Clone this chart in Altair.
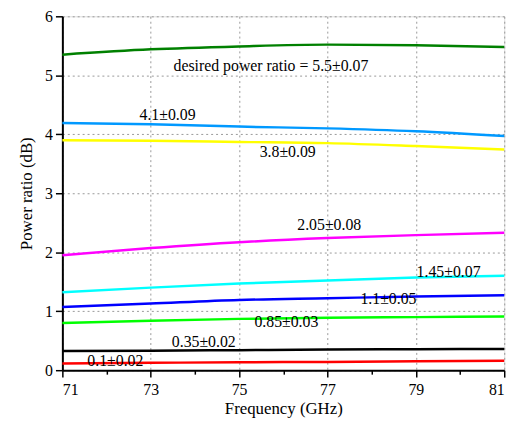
import altair as alt
import pandas as pd

freq = [71, 73, 75, 77, 79, 81]
s_green_dark = [5.35, 5.44, 5.49, 5.52, 5.51, 5.48]
s_skyblue = [4.19, 4.17, 4.13, 4.10, 4.05, 3.97]
s_yellow = [3.90, 3.89, 3.87, 3.85, 3.80, 3.74]
s_magenta = [1.95, 2.07, 2.17, 2.24, 2.29, 2.33]
s_cyan = [1.32, 1.40, 1.47, 1.52, 1.57, 1.60]
s_blue = [1.07, 1.13, 1.19, 1.22, 1.25, 1.27]
s_green = [0.80, 0.84, 0.87, 0.89, 0.90, 0.91]
s_black = [0.325, 0.33, 0.34, 0.35, 0.355, 0.36]
s_red = [0.115, 0.125, 0.135, 0.14, 0.15, 0.16]

series_names = ["5.5", "4.1", "3.8", "2.05", "1.45", "1.1", "0.85", "0.35", "0.1"]
series_vals = [s_green_dark, s_skyblue, s_yellow, s_magenta, s_cyan, s_blue, s_green, s_black, s_red]
series_colors = ["#008000", "#0099ff", "#ffff00", "#ff00ff", "#00ffff", "#0000ff", "#00ff00", "#000000", "#ff0000"]

label_text = ["desired power ratio = 5.5±0.07", "4.1±0.09", "3.8±0.09", "2.05±0.08",
              "1.45±0.07", "1.1±0.05", "0.85±0.03", "0.35±0.02", "0.1±0.02"]
label_x = [75.72, 73.38, 76.1, 77.04, 79.74, 78.38, 76.07, 74.2, 72.2]
label_y = [5.16, 4.33, 3.69, 2.46, 1.67, 1.21, 0.81, 0.48, 0.15]

rows = []
for name, vals in zip(series_names, series_vals):
    for f, v in zip(freq, vals):
        rows.append({"series": name, "freq": f, "value": v})
df = pd.DataFrame(rows)
labels = pd.DataFrame({"text": label_text, "x": label_x, "y": label_y})

FONT = "Liberation Serif, Times New Roman, serif"

xvals = list(range(71, 82))
yvals = [i * 0.5 for i in range(13)]

xscale = alt.Scale(domain=[71, 81], nice=False, zero=False)
yscale = alt.Scale(domain=[0, 6], nice=False)

xaxis = alt.Axis(
    values=xvals, title="Frequency (GHz)",
    labelExpr="datum.value % 2 == 1 ? format(datum.value, 'd') : ''",
    tickSize={"condition": {"test": "datum.value % 2 == 1", "value": 7}, "value": 4},
    gridOpacity={"condition": {"test": "datum.value % 2 == 1", "value": 1}, "value": 0},
    grid=True, gridDash=[2, 3], gridColor="#999999", gridWidth=1,
    domainColor="black", domainWidth=2, tickColor="black", tickWidth=1.5,
    labelFont=FONT, labelFontSize=16, labelColor="black", labelPadding=5,
    titleFont=FONT, titleFontSize=17, titleFontWeight="normal", titleColor="black", titlePadding=3,
)
yaxis = alt.Axis(
    values=yvals, title="Power ratio (dB)",
    labelExpr="datum.value % 1 == 0 ? format(datum.value, 'd') : ''",
    tickSize={"condition": {"test": "datum.value % 1 == 0", "value": 7}, "value": 4},
    gridOpacity={"condition": {"test": "datum.value % 1 == 0", "value": 1}, "value": 0},
    grid=True, gridDash=[2, 3], gridColor="#999999", gridWidth=1,
    domainColor="black", domainWidth=2, tickColor="black", tickWidth=1.5,
    labelFont=FONT, labelFontSize=16, labelColor="black", labelPadding=3,
    titleFont=FONT, titleFontSize=17, titleFontWeight="normal", titleColor="black", titlePadding=9,
)

lines = alt.Chart(df).mark_line(strokeWidth=2.5, interpolate="monotone").encode(
    x=alt.X("freq:Q", scale=xscale, axis=xaxis),
    y=alt.Y("value:Q", scale=yscale, axis=yaxis),
    color=alt.Color("series:N", scale=alt.Scale(domain=series_names, range=series_colors), legend=None),
    detail="series:N",
)

texts = alt.Chart(labels).mark_text(font=FONT, fontSize=16, color="black").encode(
    x=alt.X("x:Q", scale=xscale),
    y=alt.Y("y:Q", scale=yscale),
    text="text:N",
)

chart = alt.layer(lines, texts).properties(
    width=447, height=358,
    padding={"left": 55, "top": 6, "right": 20, "bottom": 50},
    autosize=alt.AutoSizeParams(type="none"),
).configure_view(stroke="black", strokeWidth=2).configure(background="white")

chart.save("out.html", embed_options={"renderer": "svg", "actions": False})
